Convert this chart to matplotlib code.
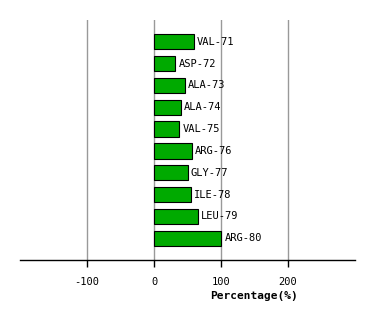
import matplotlib
matplotlib.use("Agg")
import matplotlib.pyplot as plt

residues = ["VAL-71", "ASP-72", "ALA-73", "ALA-74", "VAL-75",
            "ARG-76", "GLY-77", "ILE-78", "LEU-79", "ARG-80"]
percent = [59, 32, 46, 40, 38, 56, 50, 55, 65, 100]
xticks = [-100, 0, 100, 200]

fig = plt.figure(figsize=(3.74, 3.2), dpi=100)
ax = fig.add_axes([20 / 374, 60 / 320, 335 / 374, 240 / 320])

ypos = list(range(len(residues)))
ax.barh(ypos, percent, height=0.7, color="#00AA00", edgecolor="black",
        linewidth=0.8, zorder=3)
for y, v, name in zip(ypos, percent, residues):
    ax.text(v + 5, y, name, va="center", ha="left", fontsize=7.5,
            family="DejaVu Sans Mono", zorder=4)

ax.set_xlim(-200, 300)
ax.set_ylim(10, -1)
ax.set_xticks(xticks)
ax.set_xticklabels([str(t) for t in xticks], family="DejaVu Sans Mono", fontsize=7.5)
ax.set_yticks([])
ax.grid(axis="x", color="#999999", linewidth=1, zorder=0)
for s in ["top", "left", "right"]:
    ax.spines[s].set_visible(False)
ax.spines["bottom"].set_linewidth(1)
ax.tick_params(axis="x", length=5, width=1, pad=7)

ax.set_xlabel("Percentage(%)", family="DejaVu Sans Mono", fontsize=8,
              fontweight="bold")
ax.xaxis.set_label_coords((254 - 20) / 335, -0.13)

fig.savefig("out.png", dpi=100)
